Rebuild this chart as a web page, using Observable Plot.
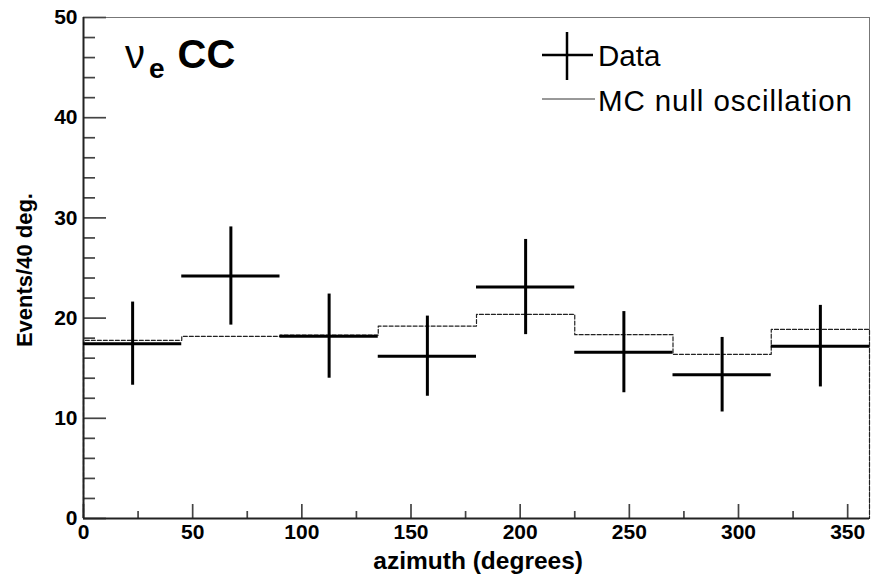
<!DOCTYPE html>
<html><head><meta charset="utf-8">
<script src="https://cdn.jsdelivr.net/npm/d3@7"></script>
<script src="https://cdn.jsdelivr.net/npm/@observablehq/plot@0.6"></script>
<style>
body{margin:0;background:#fff;}
#wrap{position:relative;width:871px;height:576px;font-family:"Liberation Sans",Arial,Helvetica,sans-serif;}
#wrap svg.overlay{position:absolute;left:0;top:0;pointer-events:none;}
</style></head><body><div id="wrap"></div>
<script>
// ---- data ----
const binLow = [0, 45, 90, 135, 180, 225, 270, 315];
const binHigh = [45, 90, 135, 180, 225, 270, 315, 360];
const dataCounts = [17.45, 24.2, 18.2, 16.2, 23.1, 16.6, 14.35, 17.2];
const dataErrors = [4.15, 4.9, 4.2, 4.0, 4.75, 4.05, 3.72, 4.07];
const mcCounts = [17.78, 18.18, 18.3, 19.2, 20.37, 18.35, 16.38, 18.87];
const xMajorTicks = [0, 50, 100, 150, 200, 250, 300, 350];
const xMinorTicks = [25, 75, 125, 175, 225, 275, 325];
const yMajorTicks = [0, 10, 20, 30, 40, 50];
const yMinorTicks = [2, 4, 6, 8, 12, 14, 16, 18, 22, 24, 26, 28, 32, 34, 36, 38, 42, 44, 46, 48];
const xTitle = "azimuth (degrees)";
const yTitle = "Events/40 deg.";
const legendLabels = ["Data", "MC null oscillation"];

// ---- layout ----
const W = 871, H = 576, mL = 83, mR = 2, mT = 17, mB = 58;
const pw = W - mL - mR, ph = H - mT - mB;

const bins = binLow.map((lo, i) => ({lo, hi: binHigh[i], c: (lo + binHigh[i]) / 2, n: dataCounts[i], e: dataErrors[i], mc: mcCounts[i]}));
const mcPath = [{x: binLow[0], y: 0}];
bins.forEach(b => { mcPath.push({x: b.lo, y: b.mc}); mcPath.push({x: b.hi, y: b.mc}); });
mcPath.push({x: binHigh[binHigh.length - 1], y: 0});

const tickColor = "#444";
const chart = Plot.plot({
  width: W, height: H, marginLeft: mL, marginRight: mR, marginTop: mT, marginBottom: mB,
  x: {domain: [0, 360]},
  y: {domain: [0, 50]},
  style: {fontFamily: "'Liberation Sans', Arial, sans-serif", background: "#fff", color: "#000", fontSize: "21px"},
  marks: [
    Plot.frame({stroke: "#777", strokeWidth: 1}),
    // ticks inward
    Plot.tickY(yMajorTicks, {y: d => d, insetRight: pw - 23, stroke: tickColor, strokeWidth: 1.7}),
    Plot.tickY(yMinorTicks, {y: d => d, insetRight: pw - 12, stroke: tickColor, strokeWidth: 1.7}),
    Plot.tickX(xMajorTicks, {x: d => d, insetTop: ph - 14, stroke: tickColor, strokeWidth: 1.7}),
    Plot.tickX(xMinorTicks, {x: d => d, insetTop: ph - 7, stroke: tickColor, strokeWidth: 1.7}),
    Plot.ruleX([0], {stroke: "#222", strokeWidth: 2}),
    Plot.ruleY([0], {stroke: "#222", strokeWidth: 2}),
    // MC histogram outline
    Plot.line(mcPath, {x: "x", y: "y", stroke: "#222", strokeWidth: 1.2, strokeDasharray: "4,2"}),
    // data points with error bars
    Plot.ruleY(bins, {y: "n", x1: "lo", x2: "hi", stroke: "#000", strokeWidth: 3}),
    Plot.ruleX(bins, {x: "c", y1: d => d.n - d.e, y2: d => d.n + d.e, stroke: "#000", strokeWidth: 3}),
    Plot.axisX({ticks: xMajorTicks, tickSize: 0, tickPadding: 6, label: null, fontSize: 21, fontWeight: "bold"}),
    Plot.axisY({ticks: yMajorTicks, tickSize: 0, tickPadding: 6, label: null, fontSize: 21, fontWeight: "bold"})
  ]
});
const wrap = document.getElementById("wrap");
wrap.appendChild(chart);

// ---- overlay: title, axis titles, legend ----
const ov = d3.select(wrap).append("svg").attr("class", "overlay").attr("width", W).attr("height", H)
  .style("font-family", "'Liberation Sans', Arial, sans-serif");

// title nu_e CC
const t = ov.append("text").attr("x", 125).attr("y", 68).attr("fill", "#000");
t.append("tspan").attr("font-size", 40).text("ν");
t.append("tspan").attr("font-size", 28).attr("font-weight", "bold").attr("dy", 10).attr("dx", 4).text("e");
t.append("tspan").attr("font-size", 40).attr("font-weight", "bold").attr("dy", -10).attr("dx", 13).text("CC");

// axis titles
ov.append("text").attr("x", 583).attr("y", 569).attr("text-anchor", "end")
  .attr("font-size", 24.5).attr("font-weight", "bold").text(xTitle);
ov.append("text").attr("transform", "translate(32,193) rotate(-90)").attr("text-anchor", "end")
  .attr("font-size", 22).attr("font-weight", "bold").text(yTitle);

// legend
const lg = ov.append("g");
lg.append("line").attr("x1", 542).attr("x2", 593).attr("y1", 55).attr("y2", 55).attr("stroke", "#000").attr("stroke-width", 2.5);
lg.append("line").attr("x1", 567).attr("x2", 567).attr("y1", 32).attr("y2", 80).attr("stroke", "#000").attr("stroke-width", 2.5);
lg.append("text").attr("x", 598).attr("y", 65.5).attr("font-size", 29.5).text(legendLabels[0]);
lg.append("line").attr("x1", 542).attr("x2", 595).attr("y1", 99).attr("y2", 99).attr("stroke", "#333").attr("stroke-width", 1);
lg.append("text").attr("x", 598).attr("y", 111).attr("font-size", 29.5).attr("letter-spacing", 0.9).text(legendLabels[1]);
</script></body></html>
